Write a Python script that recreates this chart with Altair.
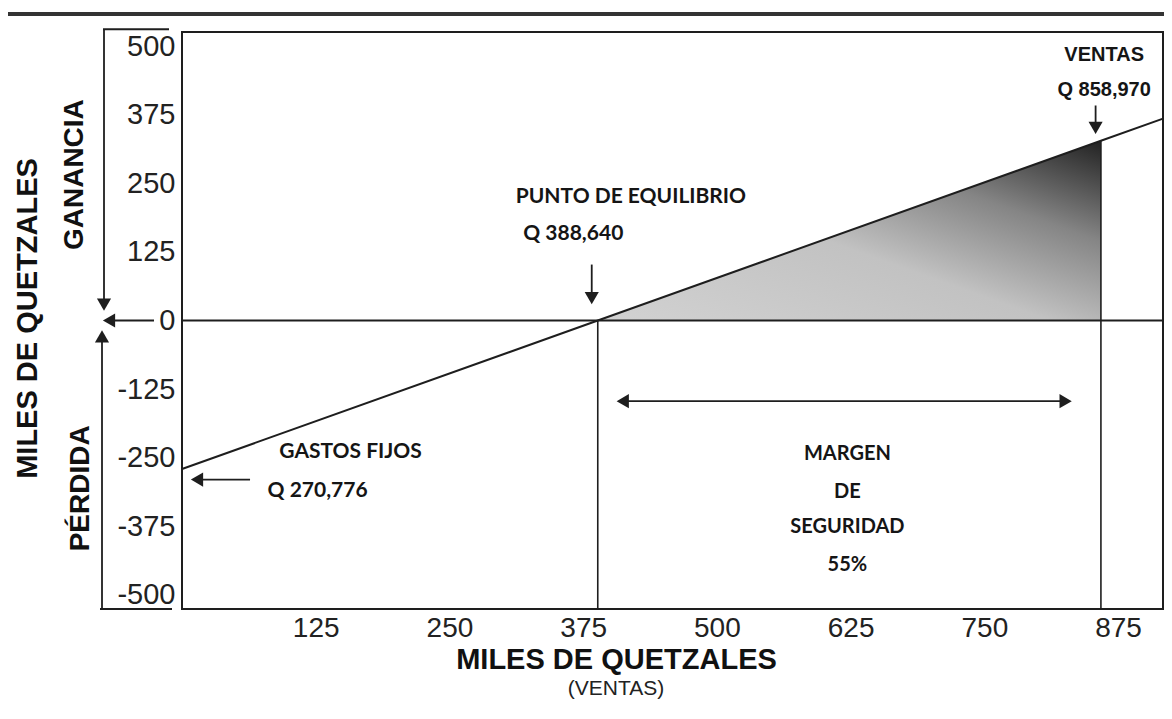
import altair as alt
import pandas as pd

# ---------------- data (miles de quetzales) ----------------
ventas_linea = [0, 388.64, 858.97, 917]
ganancia_linea = [-270.776, 0, 327.70, 368.12]
area_ventas = [388.64, 858.97]
area_ganancia = [0, 327.70]
verticales_x = [388.64, 858.97]
verticales_y = [0, 327.70]
x_ticks = [125, 250, 375, 500, 625, 750, 875]
y_ticks = [-500, -375, -250, -125, 0, 125, 250, 375, 500]

X_DOMAIN = [0, 917]
Y_DOMAIN = [-526, 526]
W, H = 981, 577
INK = "#1e1e1e"
ARIAL = "Liberation Sans"
CALIBRI = "Lato"

xs = alt.Scale(domain=X_DOMAIN, nice=False, zero=False)
ys = alt.Scale(domain=Y_DOMAIN, nice=False, zero=False)

XAXIS = alt.Axis(
    values=x_ticks, ticks=False, domain=False, grid=False,
    labelFont=ARIAL, labelFontSize=28, labelColor="#222",
    labelPadding=5, labelFlush=False, labelOverlap=False,
    title="MILES DE QUETZALES", titleFont=ARIAL, titleFontSize=29,
    titleFontWeight="bold", titleColor="#111",
    titleX=434, titleY=50, titleBaseline="middle", titleAlign="center",
)
YAXIS = alt.Axis(
    values=y_ticks, ticks=False, domain=False, grid=False,
    labelExpr="'' + datum.value",
    labelFont=ARIAL, labelFontSize=29, labelColor="#222",
    labelPadding=7, labelFlush=False, labelOverlap=False,
    title="MILES DE QUETZALES", titleFont=ARIAL, titleFontSize=29,
    titleFontWeight="bold", titleColor="#111", titleAngle=270,
    titleX=-155, titleY=286, titleBaseline="middle", titleAlign="center",
)


def X(f):
    return alt.X(f, type="quantitative", scale=xs, axis=XAXIS)


def Y(f):
    return alt.Y(f, type="quantitative", scale=ys, axis=YAXIS)


# shaded profit triangle
df_area = pd.DataFrame({"x": area_ventas, "y": area_ganancia, "y0": [0, 0]})
grad = alt.LinearGradient(
    gradient="linear",
    stops=[
        alt.GradientStop(offset=0, color="#d2d2d2"),
        alt.GradientStop(offset=0.45, color="#c2c2c2"),
        alt.GradientStop(offset=0.72, color="#858585"),
        alt.GradientStop(offset=1, color="#222222"),
    ],
    x1=0, y1=1, x2=1, y2=0,
)
area = alt.Chart(df_area).mark_area(color=grad, opacity=1).encode(
    x=X("x"), y=Y("y"), y2="y0"
)

# zero line
zero = alt.Chart(pd.DataFrame({"y": [0]})).mark_rule(color=INK, strokeWidth=2).encode(y=Y("y"))

# vertical lines at break-even and sales
df_vert = pd.DataFrame({"x": verticales_x, "y": verticales_y, "y2": [Y_DOMAIN[0]] * 2})
vert = alt.Chart(df_vert).mark_rule(color=INK, strokeWidth=1.6).encode(
    x=X("x"), y=Y("y"), y2="y2"
)

# profit line
df_line = pd.DataFrame({"ventas": ventas_linea, "ganancia": ganancia_linea})
linea = alt.Chart(df_line).mark_line(color=INK, strokeWidth=2).encode(
    x=X("ventas"), y=Y("ganancia")
)

# arrows inside the plot (data coordinates)
HEAD = 200
df_vshaft = pd.DataFrame({"x": [383, 854], "y": [102, 392], "y2": [47, 357]})
vshaft = alt.Chart(df_vshaft).mark_rule(color=INK, strokeWidth=1.8).encode(
    x=X("x"), y=Y("y"), y2="y2"
)
df_vhead = pd.DataFrame({"x": [383, 854], "y": [41, 351]})
vhead = alt.Chart(df_vhead).mark_point(
    shape="triangle-down", filled=True, color=INK, size=HEAD, opacity=1
).encode(x=X("x"), y=Y("y"))

df_hshaft = pd.DataFrame({"x": [63.6, 414], "x2": [18, 824], "y": [-290, -147]})
hshaft = alt.Chart(df_hshaft).mark_rule(color=INK, strokeWidth=1.8).encode(
    x=X("x"), x2="x2", y=Y("y")
)
df_lhead = pd.DataFrame({"x": [14, 412], "y": [-290, -147]})
lhead = alt.Chart(df_lhead).mark_point(
    shape="triangle-left", filled=True, color=INK, size=HEAD, opacity=1
).encode(x=X("x"), y=Y("y"))
df_rhead = pd.DataFrame({"x": [826], "y": [-147]})
rhead = alt.Chart(df_rhead).mark_point(
    shape="triangle-right", filled=True, color=INK, size=HEAD, opacity=1
).encode(x=X("x"), y=Y("y"))

# annotation texts
df_txt = pd.DataFrame({
    "t": ["PUNTO DE EQUILIBRIO", "Q 388,640", "GASTOS FIJOS", "Q 270,776"],
    "x": [312, 319, 91, 80],
    "y": [225, 158, -240, -311],
})
txt_left = alt.Chart(df_txt).mark_text(
    font=CALIBRI, fontSize=21, fontWeight="bold", color="#151515",
    align="left", baseline="middle",
).encode(x=X("x"), y=Y("y"), text="t:N")

df_margen = pd.DataFrame({
    "t": ["MARGEN", "DE", "SEGURIDAD", "55%"],
    "x": [622, 622, 622, 622],
    "y": [-244, -313, -377, -445],
})
txt_margen = alt.Chart(df_margen).mark_text(
    font=CALIBRI, fontSize=20, fontWeight="bold", color="#151515",
    align="center", baseline="middle",
).encode(x=X("x"), y=Y("y"), text="t:N")

df_ventas = pd.DataFrame({"t": ["VENTAS", "Q 858,970"], "x": [862, 862], "y": [484, 420]})
txt_ventas = alt.Chart(df_ventas).mark_text(
    font=ARIAL, fontSize=20, fontWeight="bold", color="#151515",
    align="center", baseline="middle",
).encode(x=X("x"), y=Y("y"), text="t:N")

# left side: GANANCIA / PERDIDA labels and arrows (x in pixels, y in data)
ganancia_txt = alt.Chart(pd.DataFrame({"y": [266]})).mark_text(
    text="GANANCIA", font=ARIAL, fontSize=28, fontWeight="bold", color="#111",
    angle=270, align="center", baseline="middle",
).encode(x=alt.value(-107), y=Y("y"))
perdida_txt = alt.Chart(pd.DataFrame({"y": [-306]})).mark_text(
    text="PÉRDIDA", font=ARIAL, fontSize=28, fontWeight="bold", color="#111",
    angle=270, align="center", baseline="middle",
).encode(x=alt.value(-101), y=Y("y"))

down_shaft = alt.Chart(pd.DataFrame({"y": [531], "y2": [34]})).mark_rule(
    color=INK, strokeWidth=1.8
).encode(x=alt.value(-78), y=Y("y"), y2="y2")
down_head = alt.Chart(pd.DataFrame({"y": [29]})).mark_point(
    shape="triangle-down", filled=True, color=INK, size=HEAD, opacity=1
).encode(x=alt.value(-78), y=Y("y"))
up_shaft = alt.Chart(pd.DataFrame({"y": [-526], "y2": [-34]})).mark_rule(
    color=INK, strokeWidth=1.8
).encode(x=alt.value(-80), y=Y("y"), y2="y2")
up_head = alt.Chart(pd.DataFrame({"y": [-29]})).mark_point(
    shape="triangle-up", filled=True, color=INK, size=HEAD, opacity=1
).encode(x=alt.value(-80), y=Y("y"))
left_shaft = alt.Chart(pd.DataFrame({"y": [0]})).mark_rule(
    color=INK, strokeWidth=1.8
).encode(x=alt.value(-28), x2=alt.value(-70), y=Y("y"))
left_head = alt.Chart(pd.DataFrame({"y": [0]})).mark_point(
    shape="triangle-left", filled=True, color=INK, size=HEAD, opacity=1
).encode(x=alt.value(-73), y=Y("y"))
top_tick = alt.Chart(pd.DataFrame({"y": [531]})).mark_rule(
    color=INK, strokeWidth=1.8
).encode(x=alt.value(-79), x2=alt.value(-13), y=Y("y"))
bot_tick = alt.Chart(pd.DataFrame({"y": [Y_DOMAIN[0]]})).mark_rule(
    color=INK, strokeWidth=1.8
).encode(x=alt.value(-82), x2=alt.value(-10), y=Y("y"))

# page top border and "(VENTAS)" subtitle
top_border = alt.Chart(pd.DataFrame({"a": [0]})).mark_rule(
    color="#333333", strokeWidth=4
).encode(x=alt.value(-174), x2=alt.value(982), y=alt.value(-18))
ventas_sub = alt.Chart(pd.DataFrame({"a": [0]})).mark_text(
    text="(VENTAS)", font=ARIAL, fontSize=21, color="#222",
    align="center", baseline="middle",
).encode(x=alt.value(434), y=alt.value(657))

chart = alt.layer(
    area, zero, vert, linea, vshaft, vhead, hshaft, lhead, rhead,
    txt_left, txt_margen, txt_ventas,
    ganancia_txt, perdida_txt, down_shaft, down_head, up_shaft, up_head,
    left_shaft, left_head, top_tick, bot_tick, top_border, ventas_sub,
).properties(
    width=W, height=H,
    padding={"left": 174, "top": 24, "right": 1, "bottom": 94},
    autosize=alt.AutoSizeParams(type="none"),
    background="white",
).configure_view(stroke=INK, strokeWidth=2)

chart.save("out.html", embed_options={"renderer": "svg", "actions": False})
